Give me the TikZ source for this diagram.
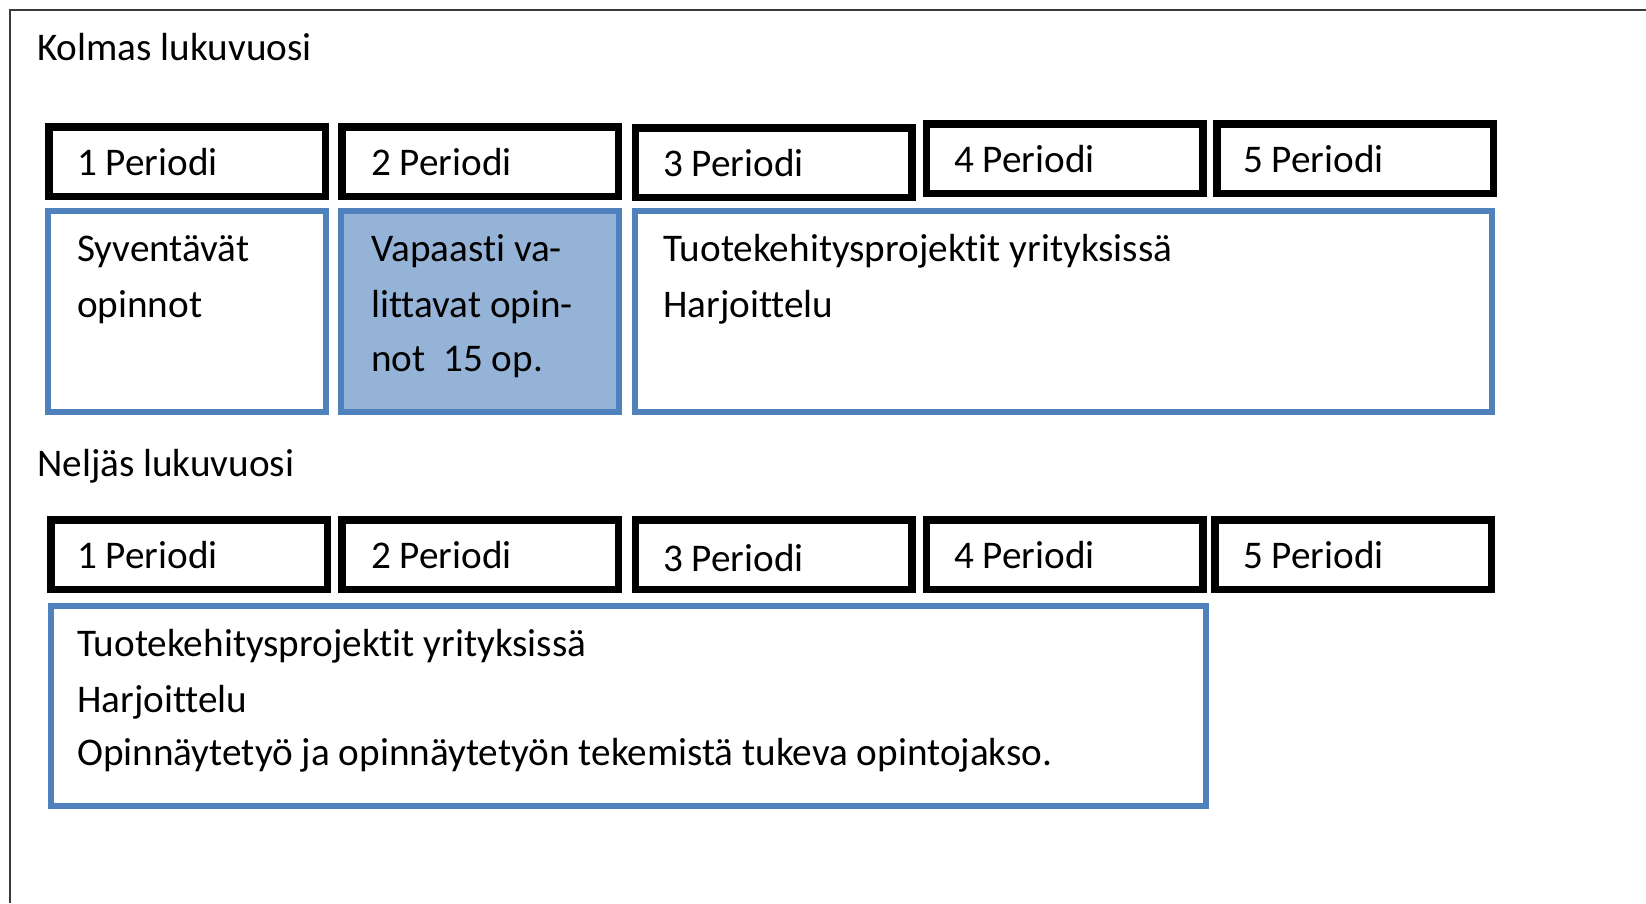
\documentclass[tikz,border=0pt]{standalone}
\usepackage{fontspec}
\setmainfont{Carlito}[Ligatures=CommonOff]
\definecolor{offblue}{HTML}{4F81BD}
\definecolor{lightblue}{HTML}{95B3D7}
\definecolor{framegray}{HTML}{3A3A3A}
\begin{document}
\begin{tikzpicture}[x=1pt,y=-1pt,
  hdr/.style={draw=black,line width=7.5pt,minimum width=276.5pt,minimum height=69.5pt,inner sep=0pt,outer sep=0pt},
  cbox/.style={draw=offblue,line width=6pt,minimum height=201pt,inner sep=0pt,outer sep=0pt},
  txt/.style={anchor=base west,inner sep=0pt,font=\fontsize{39.2}{47}\selectfont}]
\useasboundingbox (0,0) rectangle (1646,903);
\draw[framegray,line width=2.2pt] (10,903) -- (10,10) -- (1646,10);
% year 3
\node[txt] (y3) at (37,60) {Kolmas lukuvuosi};
\node[hdr] (a1) at (187,161.5) {};
\node[hdr] (a2) at (480,161.5) {};
\node[hdr] (a3) at (773.5,162.5) {};
\node[hdr] (a4) at (1064.5,158.5) {};
\node[hdr] (a5) at (1355,158.5) {};
\node[txt] (ta1) at (77,175) {1 Periodi};
\node[txt] (ta2) at (371,175) {2 Periodi};
\node[txt] (ta3) at (663,176) {3 Periodi};
\node[txt] (ta4) at (954,172) {4 Periodi};
\node[txt] (ta5) at (1243,172) {5 Periodi};
\node[cbox,minimum width=278pt] (c1) at (187,311.5) {};
\node[cbox,minimum width=278pt,fill=lightblue] (c2) at (480,311.5) {};
\node[cbox,minimum width=857pt] (c3) at (1063.5,311.5) {};
\node[txt] (tc1a) at (77,261) {Syventävät};
\node[txt] (tc1b) at (77,317) {opinnot};
\node[txt] (tc2a) at (371,261) {Vapaasti va-};
\node[txt] (tc2b) at (371,317) {littavat opin-};
\node[txt] (tc2c) at (371,371) {not\ \ 15 op.};
\node[txt] (tc3a) at (663,261) {Tuotekehitysprojektit yrityksissä};
\node[txt] (tc3b) at (663,317) {Harjoittelu};
% year 4
\node[txt] (y4) at (37,476) {Neljäs lukuvuosi};
\node[hdr] (b1) at (189,554.5) {};
\node[hdr] (b2) at (480,554.5) {};
\node[hdr] (b3) at (773.5,554.5) {};
\node[hdr] (b4) at (1064.5,554.5) {};
\node[hdr] (b5) at (1353,554.5) {};
\node[txt] (tb1) at (77,568) {1 Periodi};
\node[txt] (tb2) at (371,568) {2 Periodi};
\node[txt] (tb3) at (663,571) {3 Periodi};
\node[txt] (tb4) at (954,568) {4 Periodi};
\node[txt] (tb5) at (1243,568) {5 Periodi};
\node[cbox,minimum width=1155pt,minimum height=200pt] (d1) at (628.5,706) {};
\node[txt] (td1) at (77,656) {Tuotekehitysprojektit yrityksissä};
\node[txt] (td2) at (77,712) {Harjoittelu};
\node[txt] (td3) at (77,765) {Opinnäytetyö ja opinnäytetyön tekemistä tukeva opintojakso.};
\end{tikzpicture}
\end{document}
